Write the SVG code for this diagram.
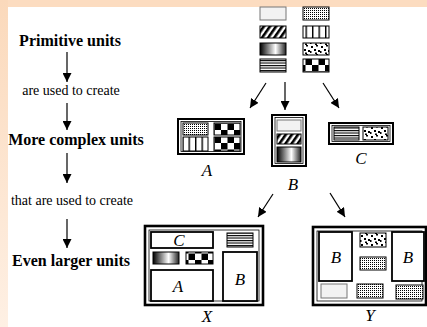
<svg xmlns="http://www.w3.org/2000/svg" width="427" height="327" viewBox="0 0 427 327">
<style>
.t{font-family:"Liberation Serif","Times New Roman",serif;fill:#000}
.b{font-weight:bold;font-size:16px}
.r{font-size:14px}
.l{font-style:italic;font-size:17px}
.tile{stroke:#000;stroke-width:1}
.outer{fill:#fff;stroke:#000;stroke-width:2}
.inner{fill:none;stroke:#000;stroke-width:0.8}
.big{fill:#fff;stroke:#000;stroke-width:2.6}
.sub{fill:#fff;stroke:#000;stroke-width:1.8}
.conn line{stroke:#000;stroke-width:1.2;marker-end:url(#ah)}
</style>
<defs>
<linearGradient id="bgL" x1="0" y1="0" x2="0" y2="1"><stop offset="0" stop-color="#fbd9bb"/><stop offset="1" stop-color="#fef0e4"/></linearGradient>
<linearGradient id="grad" x1="0" y1="0" x2="1" y2="0"><stop offset="0" stop-color="#000"/><stop offset="0.6" stop-color="#fff"/><stop offset="1" stop-color="#222"/></linearGradient>
<pattern id="grid" width="2" height="2" patternUnits="userSpaceOnUse"><rect width="2" height="2" fill="#fff"/><rect width="1" height="1" fill="#000"/></pattern>
<pattern id="hatch" width="5" height="5" patternUnits="userSpaceOnUse" patternTransform="rotate(35)"><rect width="5" height="5" fill="#fff"/><rect width="2.6" height="5" fill="#000"/></pattern>
<pattern id="vbar" width="6.5" height="20" patternUnits="userSpaceOnUse"><rect width="6.5" height="20" fill="#fff"/><rect width="1.4" height="20" fill="#000"/></pattern>
<pattern id="hline" width="20" height="2.5" patternUnits="userSpaceOnUse"><rect width="20" height="2.5" fill="#fff"/><rect width="20" height="1.1" fill="#000"/></pattern>
<pattern id="check" width="13" height="13" patternUnits="userSpaceOnUse"><rect width="13" height="13" fill="#fff"/><rect width="6.5" height="6.5" fill="#000"/><rect x="6.5" y="6.5" width="6.5" height="6.5" fill="#000"/></pattern>
<pattern id="noise" width="10" height="9" patternUnits="userSpaceOnUse"><rect width="10" height="9" fill="#fff"/><rect x="1" y="1" width="2" height="2" fill="#000"/><rect x="6" y="0" width="2" height="1.5" fill="#000"/><rect x="4" y="4" width="2" height="2" fill="#000"/><rect x="8" y="5" width="2" height="2" fill="#000"/><rect x="0" y="6" width="1.5" height="2" fill="#000"/><rect x="5" y="7.5" width="2" height="1.5" fill="#000"/></pattern>
<marker id="ah" viewBox="0 0 10 10" refX="10" refY="5" markerWidth="9" markerHeight="9" markerUnits="userSpaceOnUse" orient="auto"><path d="M0,0 L10,5 L0,10 Z" fill="#000"/></marker>
</defs>
<rect width="427" height="327" fill="#fff"/>
<rect width="427" height="7" fill="#fcdcc0"/>
<rect y="0" width="8" height="327" fill="url(#bgL)"/>

<g id="labels">
<text class="t b" x="70" y="46" text-anchor="middle">Primitive units</text>
<text class="t r" x="71" y="95" text-anchor="middle">are used to create</text>
<text class="t b" x="76" y="145" text-anchor="middle">More complex units</text>
<text class="t r" x="72" y="205" text-anchor="middle">that are used to create</text>
<text class="t b" x="71" y="266" text-anchor="middle">Even larger units</text>
</g>

<g id="primitives">
<rect x="260" y="7" width="26" height="13" fill="#f2f2f2" stroke="#777" stroke-width="1"/>
<rect class="tile" x="260" y="26" width="26" height="12" fill="url(#hatch)"/>
<rect class="tile" x="260" y="43" width="26" height="12" fill="url(#grad)"/>
<rect class="tile" x="260" y="59" width="26" height="13" fill="url(#hline)"/>
<rect class="tile" x="303" y="7" width="26" height="13" fill="url(#grid)"/>
<rect class="tile" x="303" y="26" width="26" height="12" fill="url(#vbar)"/>
<rect class="tile" x="303" y="43" width="26" height="12" fill="url(#noise)"/>
<rect class="tile" x="303" y="59" width="26" height="13" fill="url(#check)"/>
</g>

<g id="unitA">
<rect class="outer" x="178" y="119" width="66" height="35"/>
<rect class="inner" x="181" y="121.5" width="60" height="30"/>
<rect class="tile" x="183" y="123" width="25" height="12" fill="url(#grid)"/>
<rect class="tile" x="183" y="137" width="25" height="14" fill="url(#vbar)"/>
<rect class="tile" x="214" y="123" width="26" height="12" fill="url(#check)"/>
<rect class="tile" x="214" y="137" width="26" height="14" fill="url(#check)"/>
<text class="t l" x="207" y="176" text-anchor="middle">A</text>
</g>

<g id="unitB">
<rect class="outer" x="272" y="115" width="34" height="51"/>
<rect class="inner" x="275" y="117.5" width="28" height="46"/>
<rect x="277" y="120" width="24" height="11" fill="#f2f2f2" stroke="#777" stroke-width="1"/>
<rect class="tile" x="277" y="134" width="24" height="10" fill="url(#hatch)"/>
<rect class="tile" x="277" y="147" width="24" height="15" fill="url(#grad)"/>
<text class="t l" x="293" y="190" text-anchor="middle">B</text>
</g>

<g id="unitC">
<rect class="outer" x="329" y="123" width="64" height="21"/>
<rect class="inner" x="332" y="125.5" width="58" height="16"/>
<rect class="tile" x="334" y="127" width="25" height="13" fill="url(#hline)"/>
<rect class="tile" x="363" y="127" width="25" height="13" fill="url(#noise)"/>
<text class="t l" x="361" y="164" text-anchor="middle">C</text>
</g>

<g id="unitX">
<rect class="big" x="145" y="226" width="118" height="79"/>
<rect class="inner" x="149" y="230" width="110" height="71"/>
<rect class="sub" x="151" y="232" width="62" height="16"/>
<text class="t l" x="179" y="246" text-anchor="middle">C</text>
<rect class="tile" x="227" y="233" width="26" height="14" fill="url(#hline)"/>
<rect class="tile" x="153" y="252" width="26" height="12" fill="url(#grad)"/>
<rect class="tile" x="186" y="252" width="27" height="12" fill="url(#check)"/>
<rect class="sub" x="151" y="270" width="62" height="31"/>
<text class="t l" x="178" y="292" text-anchor="middle">A</text>
<rect class="sub" x="223" y="252" width="34" height="49"/>
<text class="t l" x="240" y="285" text-anchor="middle">B</text>
<text class="t l" x="207" y="322" text-anchor="middle" font-size="16">X</text>
</g>

<g id="unitY">
<rect class="big" x="313" y="227" width="113" height="78"/>
<rect class="inner" x="317" y="231" width="105" height="70"/>
<rect class="sub" x="319" y="232" width="33" height="49"/>
<text class="t l" x="336" y="263" text-anchor="middle">B</text>
<rect class="tile" x="360" y="233" width="26" height="14" fill="url(#noise)"/>
<rect class="tile" x="360" y="257" width="26" height="13" fill="url(#grid)"/>
<rect class="sub" x="392" y="232" width="32" height="49"/>
<text class="t l" x="408" y="263" text-anchor="middle">B</text>
<rect x="321" y="284" width="26" height="14" fill="#f2f2f2" stroke="#777" stroke-width="1"/>
<rect class="tile" x="357" y="284" width="26" height="14" fill="url(#grid)"/>
<rect class="tile" x="396" y="285" width="27" height="14" fill="url(#grid)"/>
<text class="t l" x="370" y="321" text-anchor="middle" font-size="16">Y</text>
</g>

<g id="connectors" class="conn">
<line x1="67" y1="52" x2="67" y2="82"/>
<line x1="67" y1="103" x2="67" y2="130"/>
<line x1="67" y1="153" x2="67" y2="183"/>
<line x1="67" y1="219" x2="67" y2="248"/>
<line x1="266" y1="83" x2="250" y2="108"/>
<line x1="285" y1="82" x2="285" y2="110"/>
<line x1="323" y1="83" x2="339" y2="108"/>
<line x1="273" y1="194" x2="258" y2="217"/>
<line x1="330" y1="193" x2="345" y2="217"/>
</g>
</svg>
